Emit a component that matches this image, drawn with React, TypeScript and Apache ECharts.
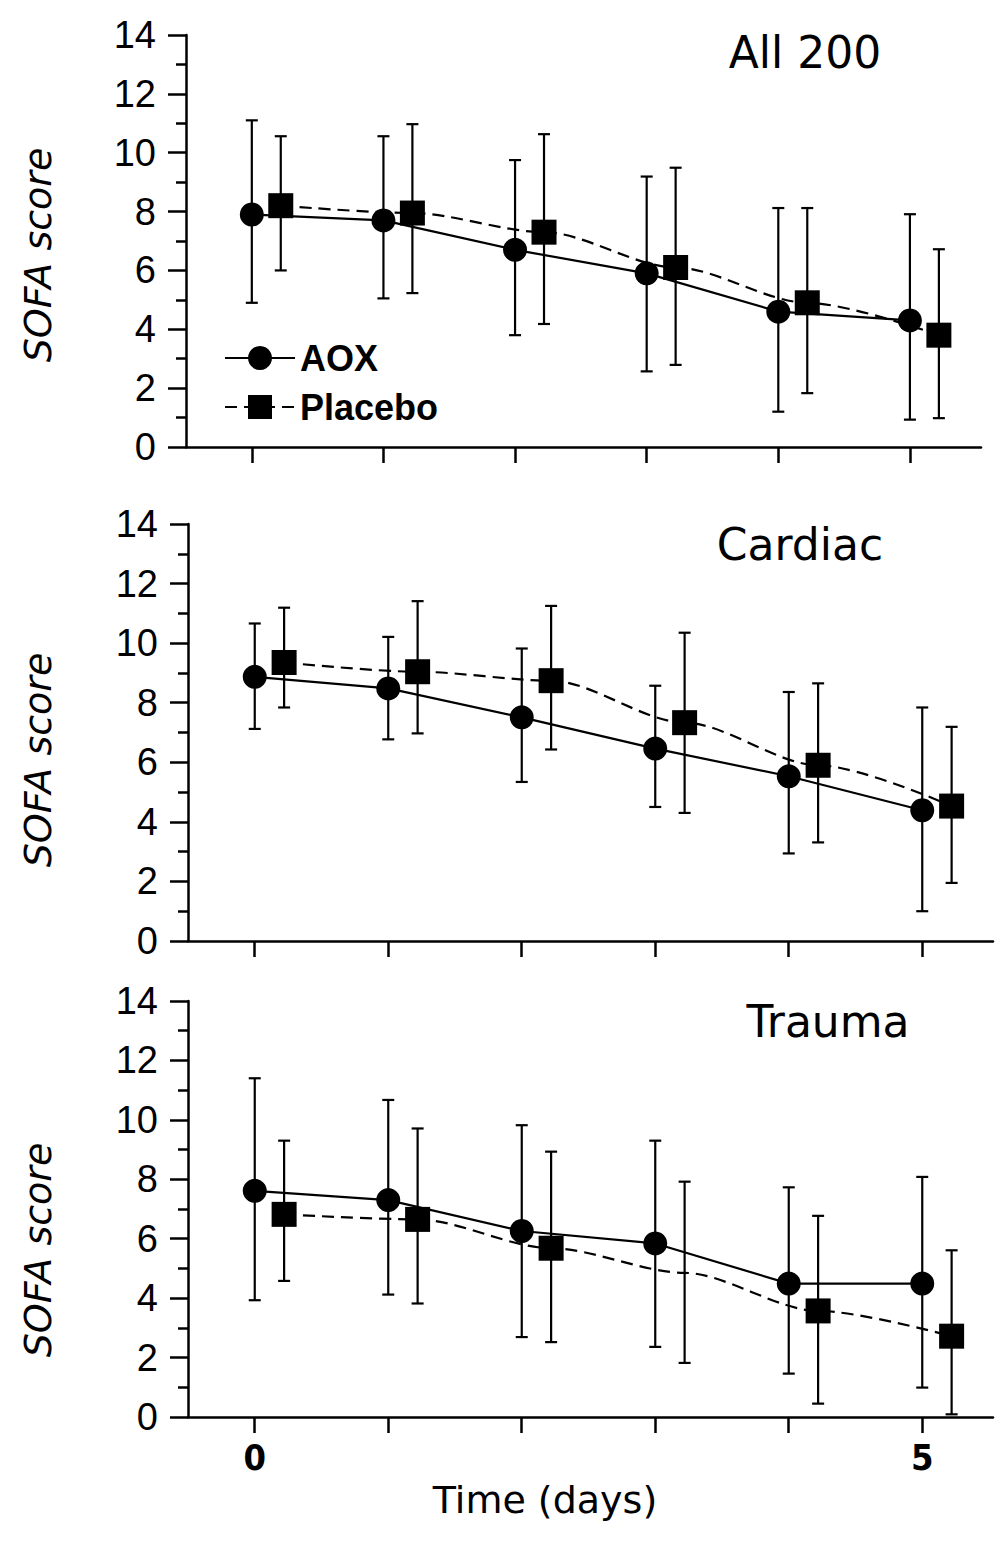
import React, { useEffect, useRef } from "react";
import * as echarts from "echarts";

// ---- data ----
const days = [0, 1, 2, 3, 4, 5];
const placeboOffset = 0.22;
const panelTitles = ["All 200", "Cardiac", "Trauma"];
const seriesNames = ["AOX", "Placebo"];
const yTicks = [0, 2, 4, 6, 8, 10, 12, 14];
const xTickLabels = [0, 5];

// All 200
const allAoxMean = [7.9, 7.7, 6.7, 5.9, 4.6, 4.3];
const allAoxLow = [4.9, 5.05, 3.8, 2.57, 1.2, 0.93];
const allAoxHigh = [11.1, 10.56, 9.75, 9.19, 8.12, 7.91];
const allPlaMean = [8.2, 7.95, 7.3, 6.1, 4.9, 3.8];
const allPlaLow = [6.0, 5.23, 4.18, 2.79, 1.83, 0.98];
const allPlaHigh = [10.56, 10.97, 10.63, 9.49, 8.12, 6.72];

// Cardiac
const cardAoxMean = [8.87, 8.48, 7.51, 6.46, 5.53, 4.39];
const cardAoxLow = [7.12, 6.77, 5.34, 4.5, 2.94, 1.0];
const cardAoxHigh = [10.66, 10.21, 9.82, 8.57, 8.36, 7.84];
const cardPlaMean = [9.35, 9.04, 8.74, 7.33, 5.9, 4.53];
const cardPlaLow = [7.84, 6.97, 6.43, 4.3, 3.31, 1.95];
const cardPlaHigh = [11.19, 11.41, 11.25, 10.35, 8.65, 7.19];

// Trauma
const traAoxMean = [7.61, 7.3, 6.26, 5.84, 4.49, 4.49];
const traAoxLow = [3.93, 4.12, 2.69, 2.36, 1.46, 0.99];
const traAoxHigh = [11.4, 10.67, 9.82, 9.3, 7.73, 8.08];
const traPlaMean = [6.82, 6.65, 5.68, 4.85, 3.57, 2.72];
const traPlaLow = [4.58, 3.82, 2.52, 1.82, 0.45, 0.09];
const traPlaHigh = [9.3, 9.71, 8.93, 7.92, 6.77, 5.61];
// Placebo marker missing in the original at Trauma day 3
const traPlaHiddenMarker = [false, false, false, true, false, false];

const panels = [
  { aox: [allAoxMean, allAoxLow, allAoxHigh], pla: [allPlaMean, allPlaLow, allPlaHigh], hidden: [false, false, false, false, false, false] },
  { aox: [cardAoxMean, cardAoxLow, cardAoxHigh], pla: [cardPlaMean, cardPlaLow, cardPlaHigh], hidden: [false, false, false, false, false, false] },
  { aox: [traAoxMean, traAoxLow, traAoxHigh], pla: [traPlaMean, traPlaLow, traPlaHigh], hidden: traPlaHiddenMarker },
];

const grids = [
  { left: 186, top: 35, width: 795, height: 412, xmin: -0.5, xmax: 5.54 },
  { left: 188, top: 524, width: 805, height: 417, xmin: -0.5, xmax: 5.53 },
  { left: 188, top: 1001, width: 805, height: 416, xmin: -0.5, xmax: 5.53 },
];

const titleSpots = [
  { x: 805, y: 52 },
  { x: 800, y: 544 },
  { x: 828, y: 1021 },
];
const ylabelCenters = [255, 760, 1250];

const LABEL_FONT = "'Liberation Sans', Arial, sans-serif";
const HAND_FONT = "'DejaVu Sans', sans-serif";

function errorRender(params: any, api: any) {
  const x = api.value(0);
  const lo = api.value(1);
  const hi = api.value(2);
  const top = api.coord([x, hi]);
  const bot = api.coord([x, lo]);
  const cw = 6;
  const st = { stroke: "#000", lineWidth: 2.2 };
  return {
    type: "group",
    children: [
      { type: "line", shape: { x1: top[0], y1: top[1], x2: bot[0], y2: bot[1] }, style: st },
      { type: "line", shape: { x1: top[0] - cw, y1: top[1], x2: top[0] + cw, y2: top[1] }, style: st },
      { type: "line", shape: { x1: bot[0] - cw, y1: bot[1], x2: bot[0] + cw, y2: bot[1] }, style: st },
    ],
  };
}

export default function App() {
  const ref = useRef<HTMLDivElement>(null);
  useEffect(() => {
    if (!ref.current) return;
    const chart = echarts.init(ref.current, null, { renderer: "svg" });

    const axisLine = { show: true, onZero: false, lineStyle: { color: "#000", width: 2.5 } };
    const grid = grids.map((g) => ({ left: g.left, top: g.top, width: g.width, height: g.height }));
    const xAxis = grids.map((g, i) => ({
      type: "value",
      gridIndex: i,
      min: g.xmin,
      max: g.xmax,
      axisLine,
      splitLine: { show: false },
      axisTick: { show: true, customValues: days, length: 16, lineStyle: { color: "#000", width: 2.5 } },
      axisLabel: {
        show: i === 2,
        customValues: xTickLabels,
        margin: 22,
        color: "#000",
        fontSize: 36,
        fontWeight: "bold",
        fontFamily: "'Liberation Sans Narrow', 'DejaVu Sans Condensed', 'Liberation Sans', sans-serif",
      },
    }));
    const yAxis = grids.map((g, i) => ({
      type: "value",
      gridIndex: i,
      min: yTicks[0],
      max: yTicks[yTicks.length - 1],
      interval: 2,
      axisLine,
      splitLine: { show: false },
      axisTick: { show: true, length: 18, lineStyle: { color: "#000", width: 2.5 } },
      minorTick: { show: true, splitNumber: 2, length: 10, lineStyle: { color: "#000", width: 2.5 } },
      minorSplitLine: { show: false },
      axisLabel: { color: "#000", fontSize: 38, fontFamily: LABEL_FONT, margin: 30 },
    }));

    const series: any[] = [];
    panels.forEach((p, i) => {
      const [am, al, ah] = p.aox;
      const [pm, pl, ph] = p.pla;
      series.push({
        type: "custom",
        name: "AOX SD",
        xAxisIndex: i,
        yAxisIndex: i,
        renderItem: errorRender,
        encode: { x: 0, y: [1, 2] },
        data: days.map((d, k) => [d, al[k], ah[k]]),
        z: 1,
      });
      series.push({
        type: "custom",
        name: "Placebo SD",
        xAxisIndex: i,
        yAxisIndex: i,
        renderItem: errorRender,
        encode: { x: 0, y: [1, 2] },
        data: days.map((d, k) => [d + placeboOffset, pl[k], ph[k]]),
        z: 1,
      });
      series.push({
        type: "line",
        name: seriesNames[0],
        xAxisIndex: i,
        yAxisIndex: i,
        data: days.map((d, k) => [d, am[k]]),
        symbol: "circle",
        symbolSize: 24,
        itemStyle: { color: "#000" },
        lineStyle: { color: "#000", width: 2.2, type: "solid" },
        z: 3,
      });
      series.push({
        type: "line",
        name: seriesNames[1],
        xAxisIndex: i,
        yAxisIndex: i,
        data: days.map((d, k) =>
          p.hidden[k] ? { value: [d + placeboOffset, pm[k]], symbol: "none" } : [d + placeboOffset, pm[k]]
        ),
        symbol: "rect",
        symbolSize: 25,
        smooth: 0.3,
        smoothMonotone: "x",
        itemStyle: { color: "#000" },
        lineStyle: { color: "#000", width: 2.2, type: [12, 7] },
        z: 3,
      });
    });

    const graphic: any[] = [];
    panelTitles.forEach((t, i) => {
      graphic.push({
        type: "text",
        x: titleSpots[i].x,
        y: titleSpots[i].y,
        style: { text: t, font: `44px ${HAND_FONT}`, fill: "#000", textAlign: "center", textVerticalAlign: "middle" },
      });
      graphic.push({
        type: "text",
        x: 38,
        y: ylabelCenters[i],
        rotation: Math.PI / 2,
        style: {
          text: "SOFA score",
          font: `italic 38px ${HAND_FONT}`,
          fill: "#000",
          textAlign: "center",
          textVerticalAlign: "middle",
        },
      });
    });
    graphic.push({
      type: "text",
      x: 545,
      y: 1500,
      style: { text: "Time (days)", font: `38px ${HAND_FONT}`, fill: "#000", textAlign: "center", textVerticalAlign: "middle" },
    });

    chart.setOption({
      animation: false,
      backgroundColor: "#fff",
      grid,
      xAxis,
      yAxis,
      series,
      graphic,
      legend: {
        data: seriesNames,
        orient: "vertical",
        left: 219,
        top: 335,
        itemWidth: 70,
        itemHeight: 30,
        itemGap: 13,
        selectedMode: false,
        textStyle: { color: "#000", fontSize: 36, fontWeight: "bold", fontFamily: LABEL_FONT, lineHeight: 36 },
      },
    });
    return () => chart.dispose();
  }, []);
  return (
    <div
      ref={ref}
      style={{ position: "absolute", left: 0, top: 0, width: 1004, height: 1542, background: "#fff" }}
    />
  );
}
